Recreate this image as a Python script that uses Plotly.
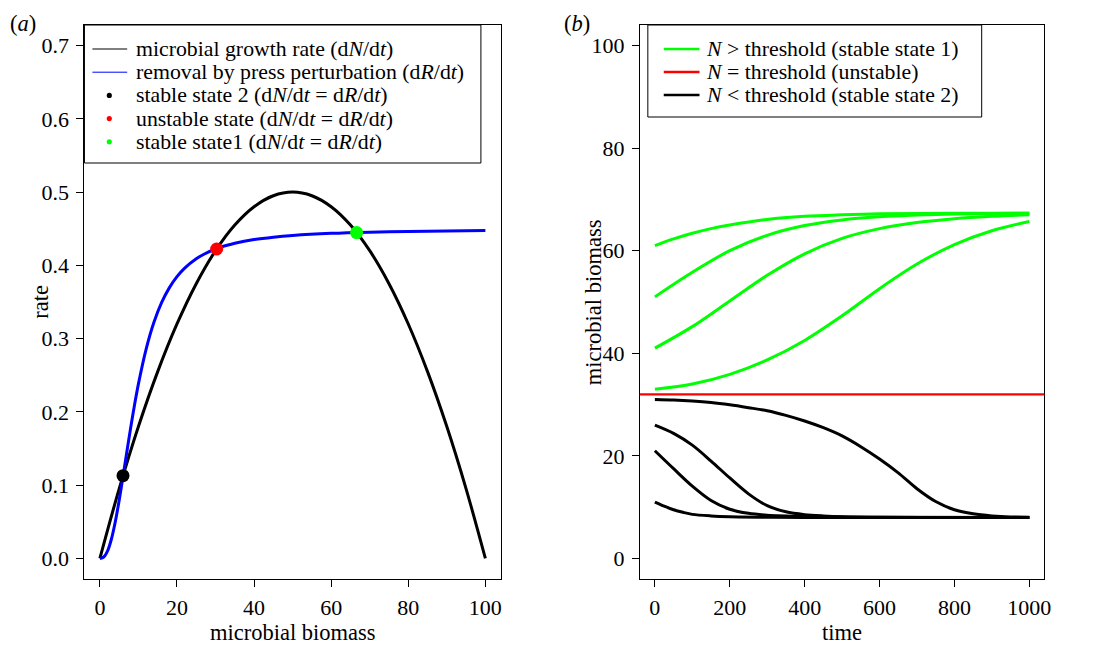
import plotly.graph_objects as go

# ---------------- data: panel (a) ----------------
biomass_growth = [0, 5, 10, 15, 20, 25, 30, 35, 40, 45, 50, 55, 60, 65, 70, 75, 80, 85, 90, 95, 100]
growth_rate = [0.0, 0.095, 0.18, 0.255, 0.32, 0.375, 0.42, 0.455, 0.48, 0.495, 0.5,
               0.495, 0.48, 0.455, 0.42, 0.375, 0.32, 0.255, 0.18, 0.095, 0.0]

biomass_removal = [0, 1, 2, 3, 4, 5, 6, 7, 8, 9, 10, 12, 14, 16, 18, 20, 22, 25, 27, 30, 33, 35, 40, 45, 50,
                   60, 70, 80, 90, 100]
removal_rate = [0.0, 0.002, 0.0104, 0.0266, 0.0501, 0.0792, 0.1119, 0.1457, 0.1788, 0.2099, 0.2383,
                0.2858, 0.322, 0.3491, 0.3693, 0.3846, 0.3962, 0.4089, 0.4152, 0.4223, 0.4274, 0.4302,
                0.4352, 0.4385, 0.4408, 0.4437, 0.4453, 0.4463, 0.447, 0.4474]

eq_names = ["stable state 2", "unstable state", "stable state1"]
eq_biomass = [6.0, 30.3, 66.6]
eq_rate = [0.113, 0.4223, 0.4448]
eq_colors = ["#000000", "#ff0000", "#00ff00"]

# ---------------- data: panel (b) ----------------
threshold = 32.0

g1_t = [0, 50, 100, 150, 200, 300, 400, 500, 600, 800, 1000]
g1_n = [61.0, 62.3, 63.4, 64.3, 65.0, 66.1, 66.7, 67.0, 67.2, 67.3, 67.3]
g2_t = [0, 100, 200, 300, 400, 500, 600, 700, 800, 900, 1000]
g2_n = [51.0, 55.8, 60.0, 63.0, 64.9, 66.0, 66.6, 66.95, 67.15, 67.25, 67.3]
g3_t = [0, 100, 200, 300, 400, 500, 600, 700, 800, 900, 1000]
g3_n = [41.0, 45.2, 50.2, 55.2, 59.4, 62.4, 64.3, 65.5, 66.25, 66.7, 67.0]
g4_t = [0, 100, 200, 300, 400, 500, 600, 700, 800, 900, 1000]
g4_n = [33.0, 34.0, 35.9, 38.7, 42.5, 47.3, 52.6, 57.4, 61.2, 63.9, 65.7]

b1_t = [0, 50, 100, 150, 200, 250, 300, 350, 400, 450, 500, 550, 600, 650, 700, 750, 800, 850, 900, 950, 1000]
b1_n = [31.0, 30.9, 30.7, 30.4, 29.95, 29.4, 28.8, 27.9, 26.8, 25.5, 23.9, 21.8, 19.4, 16.7, 13.6,
        11.1, 9.5, 8.7, 8.3, 8.1, 8.05]
b2_t = [0, 50, 100, 150, 200, 250, 300, 350, 400, 450, 500, 600, 800, 1000]
b2_n = [26.0, 24.4, 22.1, 19.0, 15.7, 12.6, 10.3, 9.1, 8.55, 8.3, 8.15, 8.05, 8.0, 8.0]
b3_t = [0, 50, 100, 150, 200, 250, 300, 400, 500, 600, 1000]
b3_n = [21.0, 17.5, 14.1, 11.3, 9.6, 8.8, 8.45, 8.2, 8.1, 8.05, 8.0]
b4_t = [0, 25, 50, 75, 100, 150, 200, 300, 400, 1000]
b4_n = [11.0, 10.2, 9.5, 9.0, 8.6, 8.3, 8.15, 8.05, 8.0, 8.0]

x_ticks_a = [0, 20, 40, 60, 80, 100]
y_ticks_a = [0.0, 0.1, 0.2, 0.3, 0.4, 0.5, 0.6, 0.7]
x_ticks_b = [0, 200, 400, 600, 800, 1000]
y_ticks_b = [0, 20, 40, 60, 80, 100]

legend_a = ["microbial growth rate (d<i>N</i>/d<i>t</i>)",
            "removal by press perturbation (d<i>R</i>/d<i>t</i>)",
            "stable state 2 (d<i>N</i>/d<i>t</i> = d<i>R</i>/d<i>t</i>)",
            "unstable state (d<i>N</i>/d<i>t</i> = d<i>R</i>/d<i>t</i>)",
            "stable state1 (d<i>N</i>/d<i>t</i> = d<i>R</i>/d<i>t</i>)"]
legend_b = ["<i>N</i> &gt; threshold (stable state 1)",
            "<i>N</i> = threshold (unstable)",
            "<i>N</i> &lt; threshold (stable state 2)"]

# ---------------- layout helpers ----------------
W, H = 1097, 648
FONT = "Liberation Serif"


def px(x):
    return x / W


def py(y):
    return 1 - y / H


GREEN, RED, BLACK, BLUE = "#00ff00", "#ff0000", "#000000", "#0000ff"

fig = go.Figure()

# panel (a)
fig.add_trace(go.Scatter(x=biomass_growth, y=growth_rate, mode="lines", line=dict(color=BLACK, width=3, shape="spline"),
                         xaxis="x", yaxis="y", showlegend=False))
fig.add_trace(go.Scatter(x=biomass_removal, y=removal_rate, mode="lines", line=dict(color=BLUE, width=3, shape="spline", smoothing=0.8),
                         xaxis="x", yaxis="y", showlegend=False))
fig.add_trace(go.Scatter(x=eq_biomass, y=eq_rate, mode="markers", marker=dict(color=eq_colors, size=13),
                         xaxis="x", yaxis="y", showlegend=False, text=eq_names))

# panel (b)
for tt, nn in [(g1_t, g1_n), (g2_t, g2_n), (g3_t, g3_n), (g4_t, g4_n)]:
    fig.add_trace(go.Scatter(x=tt, y=nn, mode="lines", line=dict(color=GREEN, width=3, shape="spline", smoothing=0.9),
                             xaxis="x2", yaxis="y2", showlegend=False))
for tt, nn in [(b1_t, b1_n), (b2_t, b2_n), (b3_t, b3_n), (b4_t, b4_n)]:
    fig.add_trace(go.Scatter(x=tt, y=nn, mode="lines", line=dict(color=BLACK, width=3, shape="spline", smoothing=0.9),
                             xaxis="x2", yaxis="y2", showlegend=False))

shapes = [dict(type="line", xref="x2 domain", x0=0, x1=1, yref="y2", y0=threshold, y1=threshold,
               line=dict(color=RED, width=2.2))]

axis_common = dict(showline=True, mirror=True, linecolor="black", linewidth=1, ticks="outside", ticklen=7,
                   tickwidth=1, tickcolor="black", showgrid=False, zeroline=False,
                   tickfont=dict(family=FONT, size=22, color="black"))

LEG_SIZE = 21.8

# legend (a)
la_rows = [49, 72.2, 95.4, 118.6, 141.8]
shapes.append(dict(type="rect", xref="paper", yref="paper", x0=px(85), x1=px(484), y0=py(25), y1=py(163),
                   line=dict(color="black", width=1), fillcolor="white", layer="above"))
annotations = []
for i, txt in enumerate(legend_a):
    annotations.append(dict(text=txt, x=px(135), y=py(la_rows[i]), xref="paper", yref="paper", xanchor="left",
                            yanchor="middle", showarrow=False, font=dict(family=FONT, size=LEG_SIZE, color="black")))
for i, col in enumerate([BLACK, BLUE]):
    shapes.append(dict(type="line", xref="paper", yref="paper", x0=px(93), x1=px(128), y0=py(la_rows[i]), y1=py(la_rows[i]),
                       line=dict(color=col, width=1), layer="above"))
for i, col in enumerate(eq_colors):
    r = 2.6
    yc = la_rows[i + 2]
    shapes.append(dict(type="circle", xref="paper", yref="paper", x0=px(110 - r), x1=px(110 + r), y0=py(yc + r), y1=py(yc - r),
                       fillcolor=col, line=dict(color=col, width=0), layer="above"))

# legend (b)
lb_rows = [49, 72, 95]
shapes.append(dict(type="rect", xref="paper", yref="paper", x0=px(652), x1=px(988), y0=py(25), y1=py(117),
                   line=dict(color="black", width=1), fillcolor="white", layer="above"))
for i, (txt, col) in enumerate(zip(legend_b, [GREEN, RED, BLACK])):
    annotations.append(dict(text=txt, x=px(709), y=py(lb_rows[i]), xref="paper", yref="paper", xanchor="left",
                            yanchor="middle", showarrow=False, font=dict(family=FONT, size=LEG_SIZE, color="black")))
    shapes.append(dict(type="line", xref="paper", yref="paper", x0=px(668), x1=px(704), y0=py(lb_rows[i]), y1=py(lb_rows[i]),
                       line=dict(color=col, width=2.5), layer="above"))


# titles / panel labels
def label(text, x, y, angle=0, size=22.5):
    return dict(text=text, x=px(x), y=py(y), xref="paper", yref="paper", xanchor="center", yanchor="middle",
                showarrow=False, textangle=angle, font=dict(family=FONT, size=size, color="black"))


annotations += [
    label("microbial biomass", 294.5, 632),
    label("time", 847.5, 632),
    label("rate", 40, 302, -90),
    label("microbial biomass", 597, 302, -90),
    label("(<i>a</i>)", 23, 24),
    label("(<i>b</i>)", 581, 24),
]

fig.update_layout(
    width=W, height=H, margin=dict(l=0, r=0, t=0, b=0),
    paper_bgcolor="white", plot_bgcolor="white",
    font=dict(family=FONT, color="black"),
    xaxis=dict(domain=[px(85), px(504)], range=[-4, 104], tickvals=x_ticks_a, anchor="y", ticklabelstandoff=2,
               **axis_common),
    yaxis=dict(domain=[py(579), py(25)], range=[-0.028, 0.728], tickvals=y_ticks_a, tickformat=".1f", anchor="x",
               ticklabelstandoff=3, **axis_common),
    xaxis2=dict(domain=[px(644), px(1051)], range=[-40, 1040], tickvals=x_ticks_b, anchor="y2", ticklabelstandoff=2,
                **axis_common),
    yaxis2=dict(domain=[py(579), py(25)], range=[-4, 104], tickvals=y_ticks_b, anchor="x2",
                ticklabelstandoff=3, **axis_common),
    shapes=shapes,
    annotations=annotations,
    showlegend=False,
)

fig.write_html("out.html",
               config={"displayModeBar": False},
               post_script="document.body.style.margin='0px';document.body.style.padding='0px';"
                           "document.body.style.overflow='hidden';")
